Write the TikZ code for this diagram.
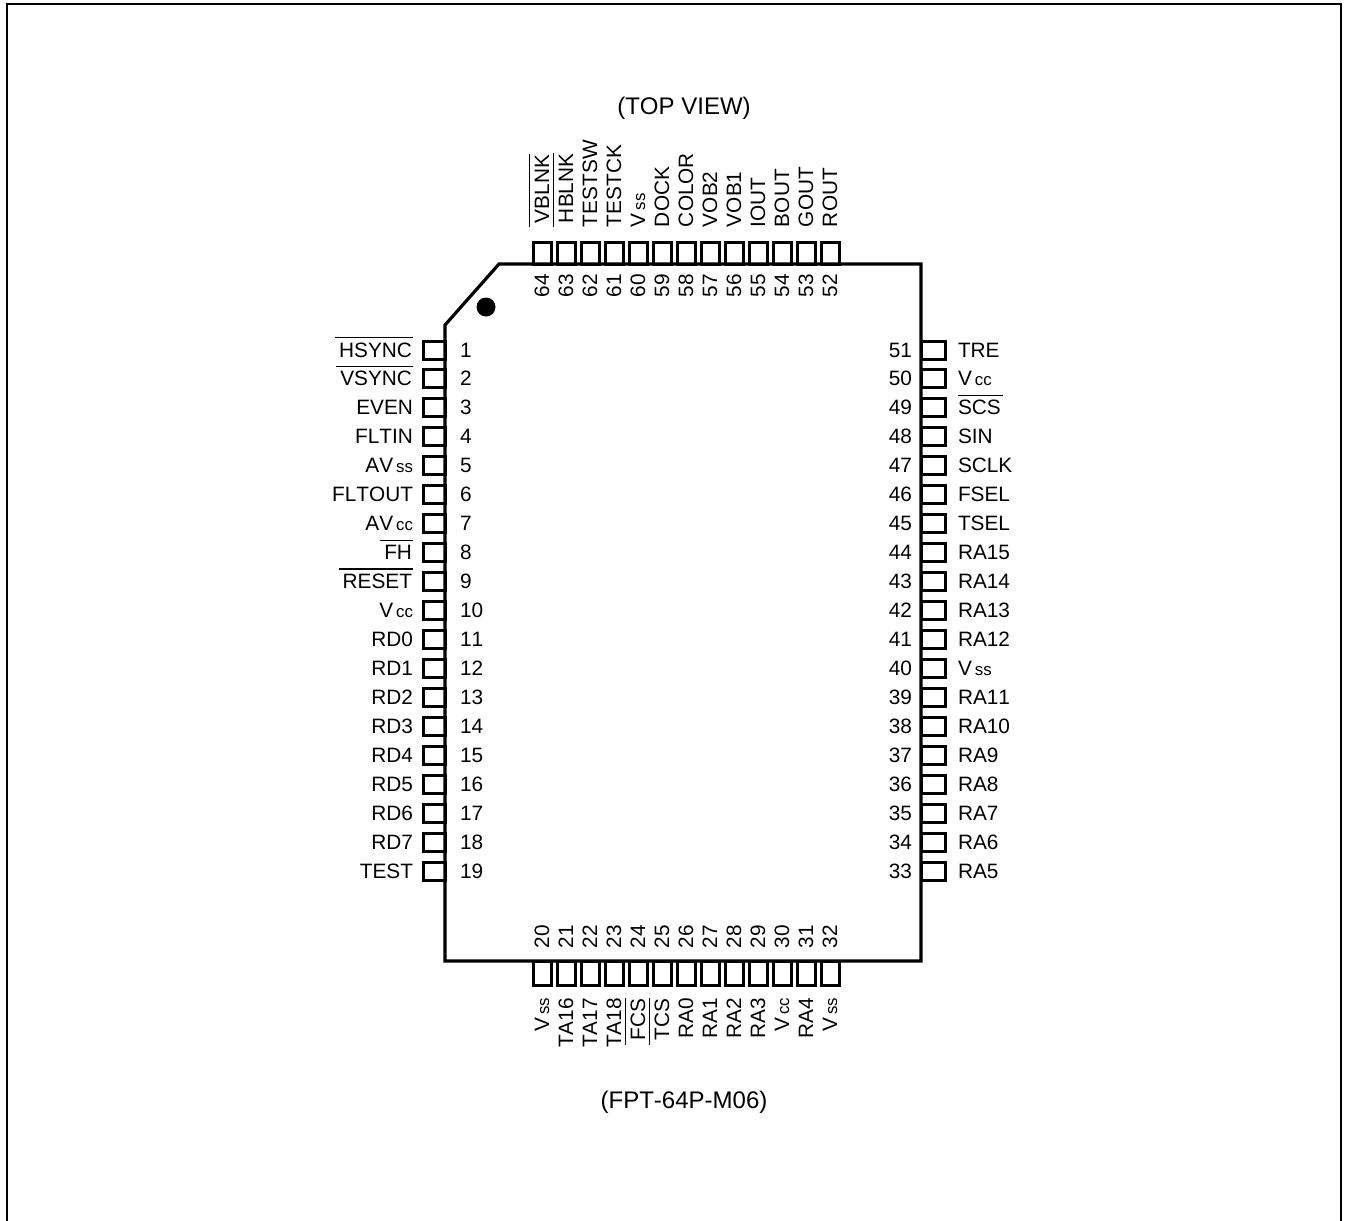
\documentclass[tikz,border=0pt]{standalone}
\usepackage{fontspec}
\setmainfont[Kerning=Off]{Liberation Sans}
\newcommand\ovl[1]{\vbox{\hrule height .7pt \kern 2.2pt \hbox{\kern 2pt #1\kern .5pt}}}
\newcommand\ovr[1]{\vbox{\hrule height .7pt \kern 2.2pt \hbox{#1\kern 1pt}}}
\newcommand\lowtxt[1]{\kern 1.5pt{\fontsize{8.4}{9}\selectfont #1}}
\tikzset{
  every node/.style={inner sep=0pt,outer sep=0pt,font=\fontsize{10.4}{12}\selectfont,text=black},
  titletxt/.style={font=\fontsize{12}{14}\selectfont},
  chipline/.style={draw=black,line width=1.6pt,line join=miter},
  pinbox/.style={draw=black,line width=1.5pt,fill=white},
  framel/.style={draw=black,line width=1pt},
}
\begin{document}
\begin{tikzpicture}[x=0.5pt,y=-0.5pt]
\path[use as bounding box,fill=white] (0,0) rectangle (1346,1221);
\draw[framel] (7,1221) -- (7,4) -- (1341,4) -- (1341,1221);
% left pins
\foreach \i/\t in {1/\ovl{HSYNC},2/\ovl{VSYNC},3/EVEN,4/FLTIN,5/AV\lowtxt{ss},6/FLTOUT,7/AV\lowtxt{cc},8/\ovl{FH},9/\ovl{RESET},10/V\lowtxt{cc},11/RD0,12/RD1,13/RD2,14/RD3,15/RD4,16/RD5,17/RD6,18/RD7,19/TEST}{
  \pgfmathsetmacro\yy{350+28.97*(\i-1)}
  \path[pinbox] (423,\yy-9) rectangle (445,\yy+9);
  \node[anchor=base east] (lab\i) at (413,\yy+7) {\t};
  \node[anchor=base west] (num\i) at (460,\yy+7) {\i};
}
% right pins
\foreach \i/\t in {51/TRE,50/V\lowtxt{cc},49/\ovr{SCS},48/SIN,47/SCLK,46/FSEL,45/TSEL,44/RA15,43/RA14,42/RA13,41/RA12,40/V\lowtxt{ss},39/RA11,38/RA10,37/RA9,36/RA8,35/RA7,34/RA6,33/RA5}{
  \pgfmathsetmacro\yy{350+28.97*(51-\i)}
  \path[pinbox] (921,\yy-9) rectangle (945,\yy+9);
  \node[anchor=base west] (lab\i) at (958,\yy+7) {\t};
  \node[anchor=base east] (num\i) at (912,\yy+7) {\i};
}
% top pins
\foreach \i/\t in {64/\ovl{VBLNK},63/\ovl{HBLNK},62/TESTSW,61/TESTCK,60/V\lowtxt{ss},59/DOCK,58/COLOR,57/VOB2,56/VOB1,55/IOUT,54/BOUT,53/GOUT,52/ROUT}{
  \pgfmathsetmacro\xx{542+24*(64-\i)}
  \path[pinbox] (\xx-9,242) rectangle (\xx+9,264);
  \node[rotate=90,anchor=base west] (lab\i) at (\xx+7,227) {\t};
  \node[rotate=90,anchor=base west] (num\i) at (\xx+7,297) {\i};
}
% bottom pins
\foreach \i/\t in {20/V\lowtxt{ss},21/TA16,22/TA17,23/TA18,24/\ovl{FCS},25/\ovl{TCS},26/RA0,27/RA1,28/RA2,29/RA3,30/V\lowtxt{cc},31/RA4,32/V\lowtxt{ss}}{
  \pgfmathsetmacro\xx{542+24*(\i-20)}
  \path[pinbox] (\xx-9,961) rectangle (\xx+9,985);
  \node[rotate=90,anchor=base east] (lab\i) at (\xx+7,998) {\t};
  \node[rotate=90,anchor=base west] (num\i) at (\xx+7,948) {\i};
}
\draw[chipline] (445,325) -- (499,264) -- (921,264) -- (921,961) -- (445,961) -- cycle;
\fill[black] (486,307) circle (9.5);
\node[titletxt] (topview) at (684,108) {(TOP VIEW)};
\node[titletxt] (pkg) at (684,1102) {(FPT-64P-M06)};
\end{tikzpicture}
\end{document}
